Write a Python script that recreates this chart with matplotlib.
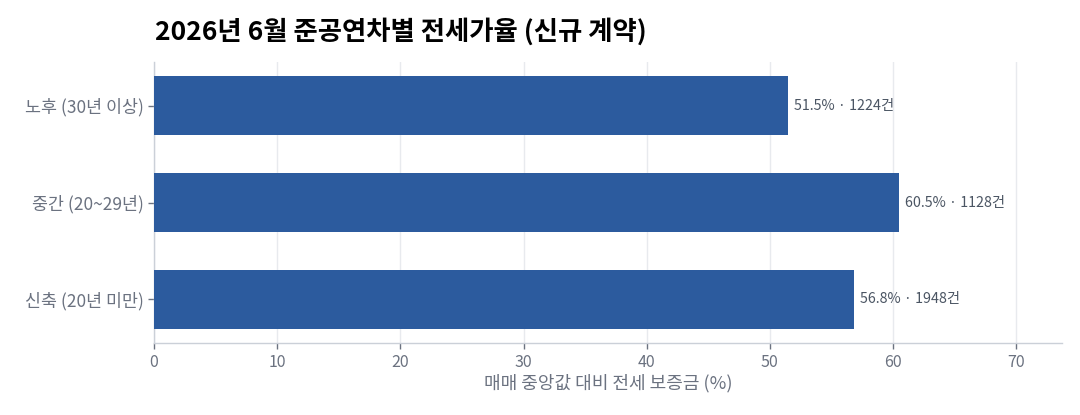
import matplotlib
matplotlib.use("Agg")
import matplotlib.pyplot as plt

plt.rcParams['font.family'] = ['Noto Sans CJK KR', 'DejaVu Sans']

# data (bottom to top)
categories = ["신축 (20년 미만)", "중간 (20~29년)", "노후 (30년 이상)"]
ratios = [56.8, 60.5, 51.5]
counts = [1948, 1128, 1224]

BAR_COLOR = "#2c5b9e"
TICK_COLOR = "#6b7280"
LABEL_COLOR = "#4b5563"
SPINE_COLOR = "#cbd0d8"
GRID_COLOR = "#e8eaee"

fig = plt.figure(figsize=(10.8, 4.15), dpi=100)
ax = fig.add_axes([0.1426, 0.1735, 0.8405, 0.677])

y = list(range(len(categories)))
ax.barh(y, ratios, height=0.61, color=BAR_COLOR, zorder=3)

for yi, r, c in zip(y, ratios, counts):
    ax.text(r + 0.5, yi, f"{r}% · {c}건", va="center", ha="left",
            fontsize=10.3, color=LABEL_COLOR, zorder=4)

ax.set_xlim(0, 73.7)
ax.set_ylim(-0.45, 2.45)
ax.set_xticks(range(0, 71, 10))
ax.set_yticks(y)
ax.set_yticklabels(categories)

ax.grid(axis="x", color=GRID_COLOR, linewidth=1, zorder=0)
ax.set_axisbelow(True)

for side in ["top", "right"]:
    ax.spines[side].set_visible(False)
for side in ["left", "bottom"]:
    ax.spines[side].set_color(SPINE_COLOR)
    ax.spines[side].set_linewidth(1)

ax.tick_params(axis="both", colors=TICK_COLOR, labelcolor=TICK_COLOR,
               labelsize=11.5, length=4, width=1)
ax.tick_params(axis="y", pad=3, labelsize=12.5)
ax.tick_params(axis="x", pad=4)

ax.set_xlabel("매매 중앙값 대비 전세 보증금 (%)", fontsize=13, color=TICK_COLOR, labelpad=2)

fig.text(155 / 1080, 1 - 32 / 415, "2026년 6월 준공연차별 전세가율 (신규 계약)",
         fontsize=19, fontweight="bold", color="black", ha="left", va="center")

fig.savefig("out.png", dpi=100)
